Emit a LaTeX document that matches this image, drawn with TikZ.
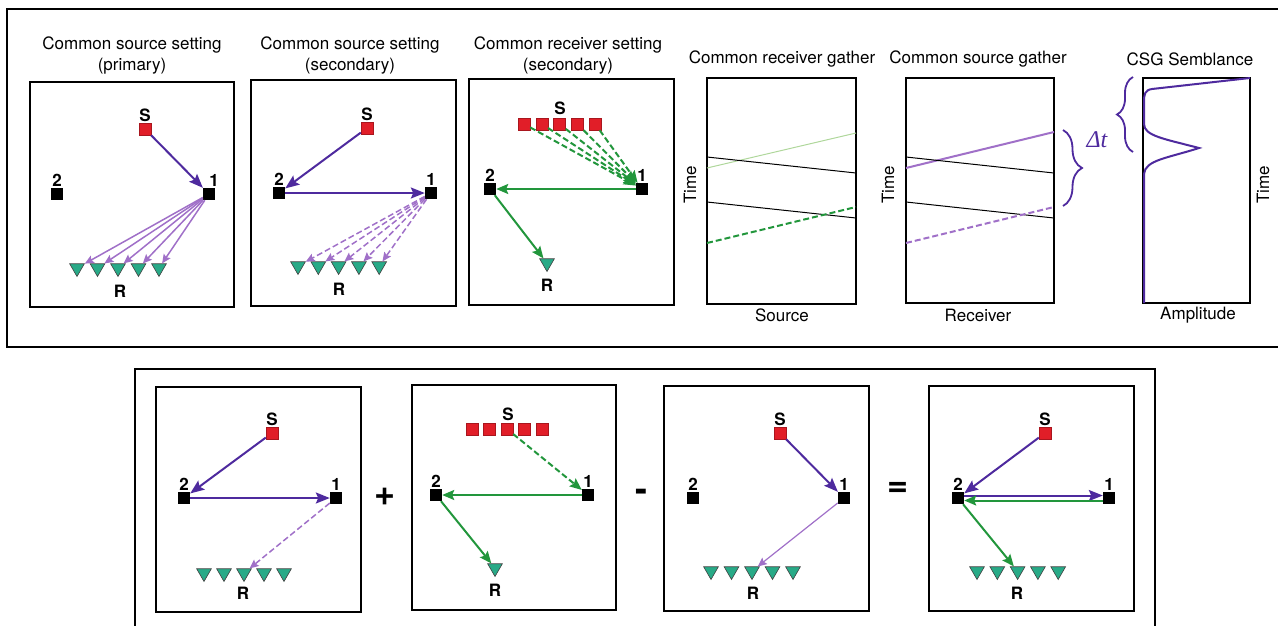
\documentclass[tikz,border=0pt]{standalone}
\usepackage{fontspec}
\setmainfont{TeX Gyre Heros}
\newfontfamily\seriffont{Liberation Serif}
\usepackage{tikz}
\usetikzlibrary{arrows.meta}
\usetikzlibrary{shapes.geometric}
\usetikzlibrary{decorations.pathreplacing}
\usepackage{xcolor}

\definecolor{wavedark}{RGB}{78,42,158}
\definecolor{wavelight}{RGB}{160,112,200}
\definecolor{wavegreen}{RGB}{34,150,60}
\definecolor{wavepale}{RGB}{175,215,155}
\definecolor{srcred}{RGB}{225,30,40}
\definecolor{rcvteal}{RGB}{40,170,135}

\begin{document}
\begin{tikzpicture}[x=1pt,y=-1pt,
	stn/.style={rectangle,fill=black,minimum size=12pt,inner sep=0pt},
	srcbox/.style={rectangle,fill=srcred,draw=srcred!75!black,line width=0.4pt,minimum size=12pt,inner sep=0pt},
	rcvtri/.style={regular polygon,regular polygon sides=3,shape border rotate=180,
		fill=rcvteal,draw=black!75,line width=0.6pt,minimum size=17pt,inner sep=0pt},
	tag/.style={font=\bfseries\fontsize{17}{17}\selectfont,inner sep=1pt},
	every label/.style={tag},
	panel/.style={line width=1.8pt},
	ttl/.style={font=\fontsize{17}{21}\selectfont,align=center},
	darr/.style={draw=wavedark,line width=2pt,-{Stealth[length=14pt,width=11pt,inset=2.5pt]}},
	larr/.style={draw=wavelight,line width=1.5pt,-{Stealth[length=9pt,width=8pt,inset=1.5pt]}},
	garr/.style={draw=wavegreen,line width=2pt,-{Stealth[length=12pt,width=10pt,inset=2pt]}},
	dsh/.style={dash pattern=on 6pt off 3pt},
	brc/.style={draw=wavedark,line width=1.8pt,decorate}]
	
	\useasboundingbox (0,0) rectangle (1278,625);
	
	% outer frames
	\draw[line width=1.5pt] (1290,9) -- (7,9) -- (7,347) -- (1290,347);
	\draw[line width=1.5pt] (135,640) -- (135,369) -- (1155,369) -- (1155,640);
	
	% --- titles ---
	\node[ttl] (t1) at (132,55) {Common source setting\\(primary)};
	\node[ttl] (t2) at (350,55) {Common source setting\\(secondary)};
	\node[ttl] (t3) at (568,55) {Common receiver setting\\(secondary)};
	\node[ttl] (t4) at (782,59) {Common receiver gather};
	\node[ttl] (t5) at (978,59) {Common source gather};
	\node[ttl] (t6) at (1190,59) {CSG Semblance};
	
	% --- common source setting (primary) ---
	\begin{scope}[shift={(30,82)}]
		\draw[panel] (0,0) rectangle (204,225);
		\node[srcbox,label=above:S] (p1s) at (115,47) {};
		\node[stn,label=above:2] (p1b) at (27,112) {};
		\node[stn,label={[xshift=5pt]above:1}] (p1a) at (179,112) {};
		\foreach \k in {1,...,5}
		\node[rcvtri] (p1r\k) at ({26.5+20.5*\k},186) {};
		\node[tag] (p1R) at (90,209) {R};
		
		\draw[darr] (p1s) -- (p1a);
		\foreach \k in {1,...,5}
		\draw[larr] (p1a) -- (p1r\k);
	\end{scope}
	
	% --- common source setting (secondary) ---
	\begin{scope}[shift={(251,80)}]
		\draw[panel] (0,0) rectangle (205,226);
		\node[srcbox,label=above:S] (p2s) at (116,48) {};
		\node[stn,label=above:2] (p2b) at (28,113) {};
		\node[stn,label=above:1] (p2a) at (180,113) {};
		\foreach \k in {1,...,5}
		\node[rcvtri] (p2r\k) at ({26.7+20.3*\k},186) {};
		\node[tag] (p2R) at (88,209) {R};
		
		\draw[darr] (p2s) -- (p2b);
		\draw[darr] (p2b) -- (p2a);
		\foreach \k in {1,...,5}
		\draw[larr,dsh] (p2a) -- (p2r\k);
	\end{scope}
	
	% --- common receiver setting (secondary) ---
	\begin{scope}[shift={(469,79)}]
		\draw[panel] (0,0) rectangle (205,226);
		\foreach \k in {1,...,5}
		\node[srcbox] (p3s\k) at ({37.2+17.8*\k},45) {};
		\node[tag] (p3S) at (91,29) {S};
		\node[stn,label=above:2] (p3b) at (21,110) {};
		\node[stn,label=above:1] (p3a) at (173,110) {};
		\node[rcvtri] (p3r) at (78,184) {};
		\node[tag] (p3R) at (78,206) {R};
		
		\foreach \k in {1,...,5}
		\draw[garr,dsh] (p3s\k) -- (p3a);
		\draw[garr] (p3a) -- (p3b);
		\draw[garr] (p3b) -- (p3r);
	\end{scope}
	
	% --- common receiver gather ---
	\draw[panel] (707,78) rectangle (856,304);
	\draw[wavepale,line width=1pt] (707,168) -- (856,133);
	\draw[line width=1pt] (707,157) -- (856,173);
	\draw[line width=1pt] (707,202) -- (856,218);
	\draw[wavegreen,line width=2pt,dsh] (707,243) -- (856,207);
	\node[ttl] (x4) at (782,315) {Source};
	\node[ttl,rotate=90] (y4) at (690,185) {Time};
	
	% --- common source gather ---
	\draw[panel] (906,78) rectangle (1054,303);
	\draw[wavelight,line width=2pt] (906,168) -- (1054,132);
	\draw[line width=1pt] (906,157) -- (1054,173);
	\draw[line width=1pt] (906,202) -- (1054,218);
	\draw[wavelight,line width=2pt,dsh] (906,243) -- (1054,207);
	\node[ttl] (x5) at (978,315) {Receiver};
	\node[ttl,rotate=90] (y5) at (888,185) {Time};
	\draw[brc,decoration={brace,amplitude=19pt}] (1063,130) -- (1063,206);
	\node[text=wavedark,font=\seriffont\itshape\fontsize{24}{24}\selectfont] (dt) at (1097,140) {Δt};
	
	% --- semblance ---
	\draw[panel] (1143,78) rectangle (1250,303);
	\draw[wavedark,line width=2pt] (1250,78) -- (1152,89)
	.. controls (1145,90) and (1144,94) .. (1144,102) -- (1144,124)
	.. controls (1144,136) and (1165,139) .. (1199,148)
	.. controls (1168,158) and (1145,160) .. (1144,174) -- (1144,303);
	\draw[brc,decoration={brace,amplitude=16pt}] (1133,152) -- (1133,77);
	\node[ttl] (x6) at (1198,315) {Amplitude};
	\node[ttl,rotate=90] (y6) at (1263,185) {Time};
	
	% --- bottom: primary + secondary ---
	\begin{scope}[shift={(156,387)}]
		\draw[panel] (0,0) rectangle (205,225);
		\node[srcbox,label=above:S] (qas) at (116,46) {};
		\node[stn,label=above:2] (qab) at (28,111) {};
		\node[stn,label=above:1] (qaa) at (180,111) {};
		\foreach \k in {1,...,5}
		\node[rcvtri] (qar\k) at ({28+20*\k},186) {};
		\node[tag] (qaR) at (87,206) {R};
		
		\draw[darr] (qas) -- (qab);
		\draw[darr] (qab) -- (qaa);
		\draw[larr,dsh] (qaa) -- (qar3);
	\end{scope}
	
	\node[font=\bfseries\fontsize{36}{36}\selectfont] (plus) at (385,497) {+};
	
	\begin{scope}[shift={(412,385)}]
		\draw[panel] (0,0) rectangle (204,225);
		\foreach \k in {1,...,5}
		\node[srcbox] (qbs\k) at ({42.5+17.5*\k},44) {};
		\node[tag] (qbS) at (96,29) {S};
		\node[stn,label=above:2] (qbb) at (24,110) {};
		\node[stn,label=above:1] (qba) at (176,110) {};
		\node[rcvtri] (qbr) at (83,183) {};
		\node[tag] (qbR) at (83,205) {R};
		
		\draw[garr,dsh] (qbs3) -- (qba);
		\draw[garr] (qba) -- (qbb);
		\draw[garr] (qbb) -- (qbr);
	\end{scope}
	
	\node[font=\bfseries\fontsize{36}{36}\selectfont] (minus) at (641,495) {-};
	
	\begin{scope}[shift={(664,386)}]
		\draw[panel] (0,0) rectangle (205,225);
		\node[srcbox,label=above:S] (qcs) at (116,47) {};
		\node[stn,label=above:2] (qcb) at (29,112) {};
		\node[stn,label=above:1] (qca) at (180,112) {};
		\foreach \k in {1,...,5}
		\node[rcvtri] (qcr\k) at ({26.5+20.5*\k},185) {};
		\node[tag] (qcR) at (89,207) {R};
		
		\draw[darr] (qcs) -- (qca);
		\draw[larr,line width=1.2pt] (qca) -- (qcr3);
	\end{scope}
	
	\node[font=\bfseries\fontsize{36}{36}\selectfont] (equal) at (898,489) {=};
	
	\begin{scope}[shift={(929,386)}]
		\draw[panel] (0,0) rectangle (205,225);
		\node[srcbox,label=above:S] (qds) at (116,47) {};
		\node[stn,label=above:2] (qdb) at (29,112) {};
		\node[stn,label=above:1] (qda) at (180,112) {};
		\foreach \k in {1,...,5}
		\node[rcvtri] (qdr\k) at ({27.7+20.3*\k},185) {};
		\node[tag] (qdR) at (88,207) {R};
		
		\draw[darr] (qds) -- (qdb);
		\draw[darr] ([yshift=2.5pt]qdb.east) -- ([yshift=2.5pt]qda.west);
		\draw[garr] ([yshift=-2.5pt]qda.west) -- ([yshift=-2.5pt]qdb.east);
		\draw[garr] (qdb) -- (qdr3);
	\end{scope}
	
\end{tikzpicture}
\end{document}
